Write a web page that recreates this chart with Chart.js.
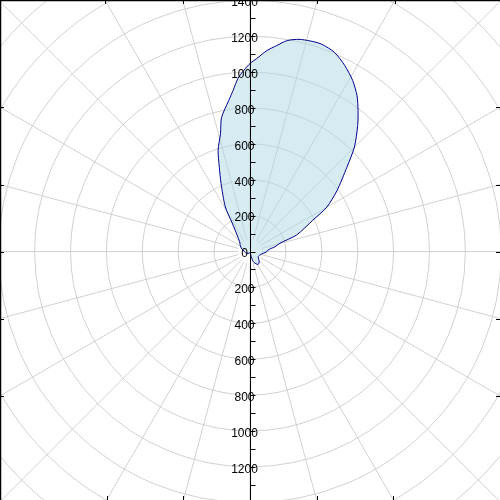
<!DOCTYPE html>
<html>
<head>
<meta charset="utf-8">
<script src="https://cdn.jsdelivr.net/npm/chart.js@4.4.0/dist/chart.umd.min.js"></script>
<style>
  html, body { margin: 0; padding: 0; background: #fff; }
  #wrap { width: 500px; height: 500px; overflow: hidden; }
</style>
</head>
<body>
<div id="wrap"><canvas id="chart" width="500" height="500"></canvas></div>
<script>
// lobe: angle in degrees clockwise from north, radius in plot units
const lobeAngles = [-160, -120, -95, -85, -73, -57, -50, -40, -32, -29, -23, -20, -17.5, -14, -12, -8, -6, -4, -2,
    0, 2.4, 4.8, 7.4, 10, 13, 16, 19, 23, 27, 31, 34.5, 37.5, 40.5, 45, 49, 55, 60, 63.5, 70.5, 74.5, 79, 85,
    91, 98, 109, 122, 138, 147, 152, 162, 166, 175];
const lobeRadii = [10, 20, 30, 33, 48, 66, 73, 105, 187, 284, 413, 500, 591, 679, 763, 850, 902, 966, 1009,
    1047, 1082, 1123, 1157, 1193, 1213, 1220, 1222, 1205, 1163, 1111, 1053, 989, 924, 823, 715, 592, 494, 391, 275, 173, 143, 102,
    93, 74, 59, 54, 77, 85, 80, 60, 30, 5];

const ringValues = [200, 400, 600, 800, 1000, 1200, 1400, 1600, 1800, 2000];
const spokeAngles = [0, 15, 30, 45, 60, 75, 90, 105, 120, 135, 150, 165, 180, 195, 210, 225, 240, 255, 270, 285, 300, 315, 330, 345];
const axisLabelValues = [1400, 1200, 1000, 800, 600, 400, 200, 0, -200, -400, -600, -800, -1000, -1200, -1400];
const axisLabels = ['1400', '1200', '1000', '800', '600', '400', '200', '0', '200', '400', '600', '800', '1000', '1200', '1400'];
const spokeStart = 67;
const spokeEnd = 2200;

const toRad = d => d * Math.PI / 180;

const lobePoints = lobeAngles.map((a, i) => ({
    x: lobeRadii[i] * Math.sin(toRad(a)),
    y: lobeRadii[i] * Math.cos(toRad(a))
}));
lobePoints.push(lobePoints[0]); // close the loop

const polarGrid = {
    id: 'polarGrid',
    beforeDatasetsDraw(chart) {
        const { ctx, scales: { x, y } } = chart;
        const cx = x.getPixelForValue(0), cy = y.getPixelForValue(0);
        const unit = x.getPixelForValue(1) - cx;
        ctx.save();
        ctx.strokeStyle = '#cccccc';
        ctx.lineWidth = 0.9;
        ringValues.forEach(r => {
            ctx.beginPath();
            ctx.arc(cx, cy, r * unit, 0, 2 * Math.PI);
            ctx.stroke();
        });
        spokeAngles.forEach(a => {
            const s = Math.sin(toRad(a)), c = Math.cos(toRad(a));
            ctx.beginPath();
            ctx.moveTo(x.getPixelForValue(spokeStart * s), y.getPixelForValue(spokeStart * c));
            ctx.lineTo(x.getPixelForValue(spokeEnd * s), y.getPixelForValue(spokeEnd * c));
            ctx.stroke();
        });
        ctx.restore();
    },
    afterDatasetsDraw(chart) {
        const { ctx, chartArea: area, scales: { x, y } } = chart;
        const cx = x.getPixelForValue(0), cy = y.getPixelForValue(0);
        const ax = Math.round(cx) + 0.5;
        ctx.save();
        ctx.strokeStyle = '#000';
        ctx.lineWidth = 1;

        // vertical radial axis
        ctx.beginPath();
        ctx.moveTo(ax, area.top);
        ctx.lineTo(ax, area.bottom);
        ctx.stroke();

        // tick marks every 100 on the right of the axis
        for (let v = -1400; v <= 1400; v += 100) {
            const py = Math.round(y.getPixelForValue(v)) + 0.5;
            ctx.beginPath();
            ctx.moveTo(ax, py);
            ctx.lineTo(ax + 5, py);
            ctx.stroke();
        }

        ctx.fillStyle = '#000';
        ctx.font = '12px "Liberation Sans", Arial, sans-serif';
        ctx.textAlign = 'center';
        ctx.textBaseline = 'middle';
        axisLabelValues.forEach((v, i) => {
            ctx.fillText(axisLabels[i], cx - 5.5, y.getPixelForValue(v) + 2.5);
        });

        // frame on the left and top
        ctx.lineWidth = 1.5;
        ctx.beginPath();
        ctx.moveTo(area.left + 0.5, area.bottom);
        ctx.lineTo(area.left + 0.5, area.top + 0.5);
        ctx.lineTo(area.right, area.top + 0.5);
        ctx.stroke();

        // ticks where the spokes meet the frame
        ctx.lineWidth = 1;
        spokeAngles.forEach(a => {
            const dx = Math.sin(toRad(a)), dy = -Math.cos(toRad(a));
            const tx = dx > 1e-9 ? (area.right - cx) / dx : dx < -1e-9 ? (area.left - cx) / dx : Infinity;
            const ty = dy > 1e-9 ? (area.bottom - cy) / dy : dy < -1e-9 ? (area.top - cy) / dy : Infinity;
            if (Math.abs(tx - ty) < 3) return;
            ctx.beginPath();
            if (tx < ty) {
                const py = Math.round(cy + dy * tx) + 0.5;
                const ex = dx > 0 ? area.right : area.left;
                ctx.moveTo(ex, py);
                ctx.lineTo(ex - Math.sign(dx) * 4, py);
            } else {
                const pxx = Math.round(cx + dx * ty) + 0.5;
                const ey = dy > 0 ? area.bottom : area.top;
                ctx.moveTo(pxx, ey);
                ctx.lineTo(pxx, ey - Math.sign(dy) * 4);
            }
            ctx.stroke();
        });
        ctx.restore();
    }
};

new Chart(document.getElementById('chart'), {
    type: 'scatter',
    data: {
        datasets: [{
            data: lobePoints,
            showLine: true,
            fill: 'shape',
            tension: 0.25,
            pointRadius: 0,
            borderColor: '#00008b',
            borderWidth: 1,
            backgroundColor: 'rgba(173, 216, 230, 0.5)'
        }]
    },
    options: {
        responsive: false,
        animation: false,
        devicePixelRatio: 1,
        layout: { padding: 0 },
        plugins: { legend: { display: false }, tooltip: { enabled: false } },
        scales: {
            x: { type: 'linear', display: false, min: -1393, max: 1393 },
            y: { type: 'linear', display: false, min: -1384, max: 1401 }
        }
    },
    plugins: [polarGrid]
});
</script>
</body>
</html>
